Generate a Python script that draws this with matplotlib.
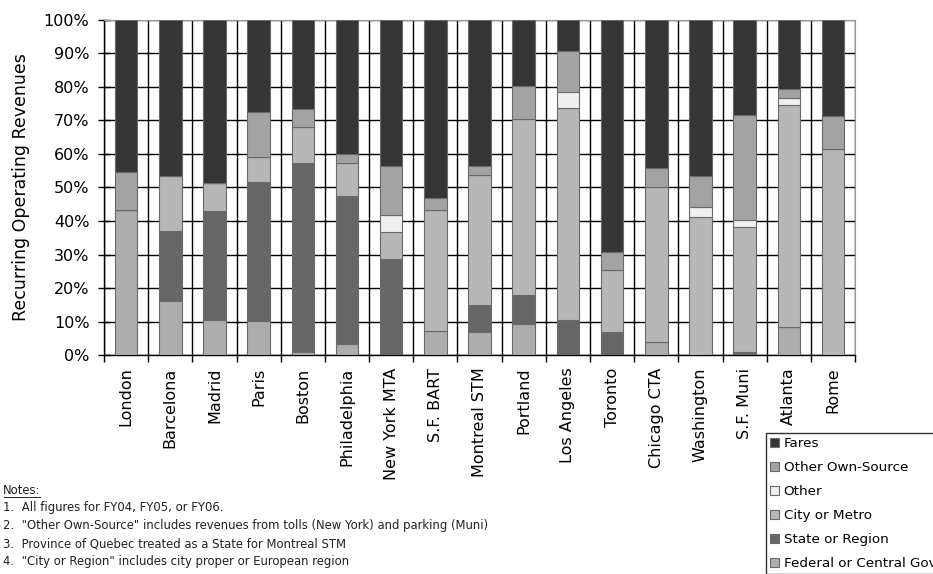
import numpy as np
import matplotlib
matplotlib.use("Agg")
import matplotlib.pyplot as plt
from matplotlib.ticker import FixedLocator, PercentFormatter

# =====================================
# data (percent of recurring operating revenues)
# =====================================
CITIES = ["London", "Barcelona", "Madrid", "Paris", "Boston", "Philadelphia",
          "New York MTA", "S.F. BART", "Montreal STM", "Portland", "Los Angeles",
          "Toronto", "Chicago CTA", "Washington", "S.F. Muni", "Atlanta", "Rome"]

federal = [43.3, 16.2, 10.6, 10.1, 0.8, 3.2, 0.0, 7.2, 6.8, 9.3, 0.0, 0.0, 3.8, 0.0, 0.0, 8.5, 0.0]
state = [0.0, 20.9, 32.4, 41.6, 56.4, 44.4, 28.7, 0.0, 8.1, 8.6, 10.4, 7.0, 0.0, 0.0, 0.8, 0.0, 0.0]
city = [0.0, 16.4, 8.2, 7.5, 11.0, 9.6, 8.1, 36.1, 38.8, 52.4, 63.2, 18.4, 46.4, 41.1, 37.5, 66.1, 61.4]
other = [0.0, 0.0, 0.0, 0.0, 0.0, 0.0, 5.0, 0.0, 0.0, 0.0, 5.0, 0.0, 0.0, 3.0, 2.0, 2.0, 0.0]
other_own = [11.2, 0.0, 0.0, 13.4, 5.2, 2.7, 14.7, 3.7, 2.8, 10.0, 12.1, 5.2, 5.5, 9.4, 31.3, 2.8, 9.9]
fares = [100 - sum(v) for v in zip(federal, state, city, other, other_own)]

# bottom -> top
SERIES = [
    ("Federal or Central Gov", federal, "#adadad"),
    ("State or Region", state, "#666666"),
    ("City or Metro", city, "#b7b7b7"),
    ("Other", other, "#efefef"),
    ("Other Own-Source", other_own, "#a3a3a3"),
    ("Fares", fares, "#353535"),
]

NOTES = [
    "1.  All figures for FY04, FY05, or FY06.",
    "2.  \"Other Own-Source\" includes revenues from tolls (New York) and parking (Muni)",
    "3.  Province of Quebec treated as a State for Montreal STM",
    "4.  \"City or Region\" includes city proper or European region",
]

# =====================================
# plot
# =====================================
plt.rcParams["font.family"] = ["DejaVu Sans"]

fig = plt.figure(figsize=(9.33, 5.74), dpi=100)
ax = fig.add_axes([0.1115, 0.3815, 0.805, 0.5837])

x = np.arange(len(CITIES))
bottom = np.zeros(len(CITIES))
handles = {}
for name, vals, color in SERIES:
    vals = np.array(vals)
    bars = ax.bar(x, vals, 0.51, bottom=bottom, color=color,
                  edgecolor="#6a6a6a", linewidth=0.8, zorder=3, label=name)
    handles[name] = bars
    bottom += vals

ax.set_xlim(-0.5, len(CITIES) - 0.5)
ax.set_ylim(0, 100)
ax.set_yticks(np.arange(0, 101, 10))
ax.yaxis.set_major_formatter(PercentFormatter(decimals=0))
ax.set_xticks(x)
ax.set_xticklabels(CITIES, rotation=90, fontsize=11.5)
ax.xaxis.set_minor_locator(FixedLocator(np.arange(-0.5, len(CITIES), 1.0)))
ax.tick_params(axis="x", which="major", length=0, pad=9)
ax.tick_params(axis="x", which="minor", length=5, width=1, direction="out")
ax.tick_params(axis="y", labelsize=11.5, length=9, width=1, direction="inout", pad=6)

ax.grid(axis="y", which="major", color="black", linewidth=1, zorder=0)
ax.grid(axis="x", which="minor", color="black", linewidth=1, zorder=0)
ax.set_axisbelow(True)

for s in ["top", "right"]:
    ax.spines[s].set_color("#999999")
for s in ["left", "bottom"]:
    ax.spines[s].set_color("black")
    ax.spines[s].set_linewidth(1)

ax.set_ylabel("Recurring Operating Revenues", fontsize=12.5, labelpad=10)

# legend, top to bottom (runs off the right edge as in the source)
order = ["Fares", "Other Own-Source", "Other", "City or Metro", "State or Region",
         "Federal or Central Gov"]
leg = fig.legend([handles[n] for n in order], order, loc="upper left",
                 bbox_to_anchor=(766 / 933, 1 - 433 / 574), borderaxespad=0,
                 fontsize=9.7, frameon=True, fancybox=False, edgecolor="black",
                 handlelength=0.7, handleheight=0.7, handletextpad=0.3,
                 labelspacing=0.82, borderpad=0.3)
leg.get_frame().set_linewidth(1)

# notes
fig.text(3 / 933, 1 - 490 / 574, "Notes:", fontsize=8.4, va="center",
         color="#222222")
fig.add_artist(plt.Line2D([4 / 933, 40 / 933], [1 - 497 / 574] * 2,
                          color="#222222", linewidth=0.7))
for i, line in enumerate(NOTES):
    fig.text(3 / 933, 1 - (508 + 18 * i) / 574, line, fontsize=8.4, va="center",
             color="#222222")

fig.savefig("out.png", dpi=100)
plt.close(fig)
